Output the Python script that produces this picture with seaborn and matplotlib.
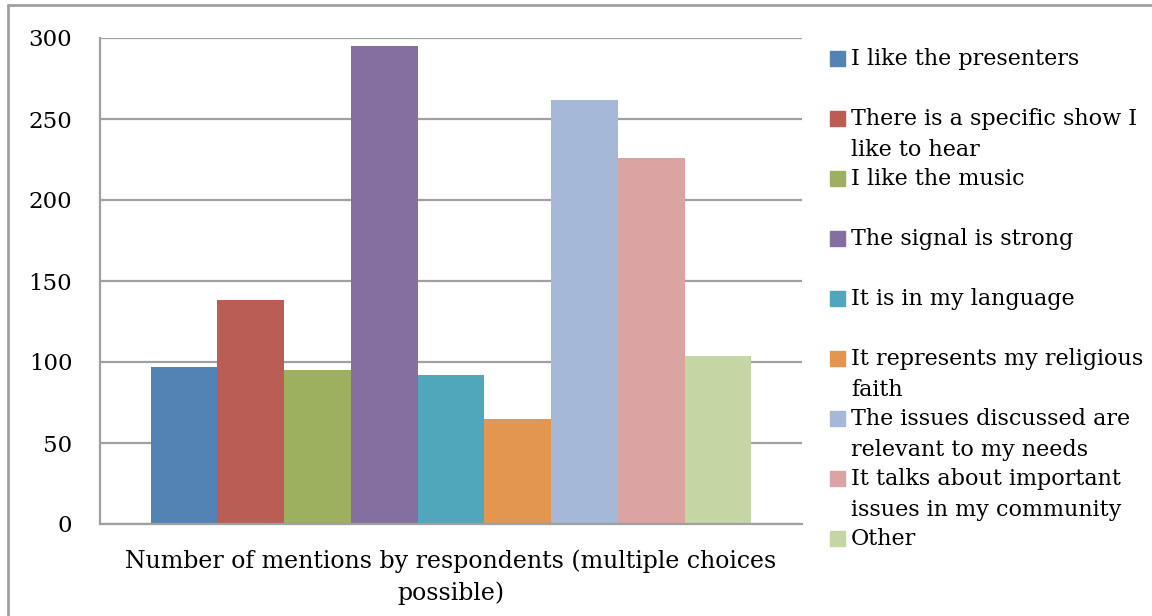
import matplotlib
matplotlib.use("Agg")
import matplotlib.pyplot as plt
import seaborn as sns
import pandas as pd
from matplotlib.patches import Rectangle
from matplotlib.lines import Line2D

# data
group = "Number of mentions by respondents (multiple choices\npossible)"
reasons = [
    "I like the presenters",
    "There is a specific show I\nlike to hear",
    "I like the music",
    "The signal is strong",
    "It is in my language",
    "It represents my religious\nfaith",
    "The issues discussed are\nrelevant to my needs",
    "It talks about important\nissues in my community",
    "Other",
]
mentions = [97, 138, 95, 295, 92, 65, 262, 226, 104]
colors = ["#5283B4", "#BA5D55", "#9CB060", "#856EA0", "#50A6BB",
          "#E39650", "#A5B8D8", "#DBA3A2", "#C5D6A5"]
yticks = [0, 50, 100, 150, 200, 250, 300]

df = pd.DataFrame({"group": [group] * len(reasons), "reason": reasons, "mentions": mentions})

sns.set_theme(style="white")
plt.rcParams["font.family"] = ["DejaVu Serif"]
plt.rcParams["text.color"] = "black"

W, H = 1152, 616
fig = plt.figure(figsize=(W / 100, H / 100), dpi=100)
ax = fig.add_axes([100 / W, 1 - 524 / H, 702 / W, 486 / H])

sns.barplot(data=df, x="group", y="mentions", hue="reason", palette=colors,
            width=0.856, gap=0, saturation=1, errorbar=None, legend=False,
            linewidth=0, ax=ax)

ax.set_xlim(-0.5, 0.5)
ax.set_ylim(0, 300)
ax.set_yticks(yticks)
ax.yaxis.grid(True, color="#A0A0A0", linewidth=1.6)
ax.set_axisbelow(True)
ax.set_xlabel("")
ax.set_ylabel("")
for s in ["top", "right"]:
    ax.spines[s].set_visible(False)
for s in ["left", "bottom"]:
    ax.spines[s].set_color("#A0A0A0")
    ax.spines[s].set_linewidth(1.6)
ax.tick_params(axis="y", length=0, pad=20, labelsize=16.5, labelcolor="black")
ax.tick_params(axis="x", length=0, pad=18, labelsize=17, labelcolor="black")
for lab in ax.get_xticklabels():
    lab.set_linespacing(1.5)

# legend drawn by hand so the swatch sits on the first line of wrapped labels
for i, (r, c) in enumerate(zip(reasons, colors)):
    yc = 58 + 60 * i
    fig.patches.append(Rectangle((830 / W, 1 - (yc + 7.5) / H), 15 / W, 15 / H,
                                 transform=fig.transFigure, color=c))
    fig.text(851 / W, 1 - (yc - 10) / H, r, va="top", ha="left", fontsize=16,
             linespacing=1.55, color="black")

# outer chart frame (left and top edges visible)
fig.add_artist(Line2D([8 / W, 8 / W], [0, 1 - 5 / H], transform=fig.transFigure,
                      color="#A0A0A0", linewidth=2))
fig.add_artist(Line2D([8 / W, 1], [1 - 5 / H, 1 - 5 / H], transform=fig.transFigure,
                      color="#A0A0A0", linewidth=2))

fig.savefig("out.png", dpi=100)
